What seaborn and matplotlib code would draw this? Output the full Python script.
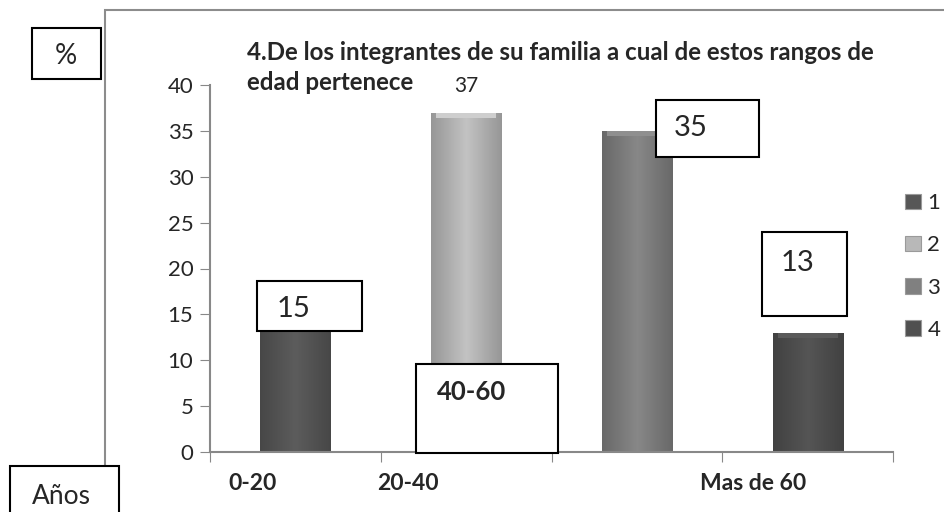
import matplotlib
matplotlib.use("Agg")
import matplotlib.pyplot as plt
from matplotlib.patches import Rectangle, Patch
from matplotlib.colors import LinearSegmentedColormap, to_rgb
import seaborn as sns
import numpy as np
import pandas as pd

rangos = ["0-20", "20-40", "40-60", "Mas de 60"]
porcentajes = [15, 37, 35, 13]
series = ["1", "2", "3", "4"]
colores = ["#575757", "#b8b8b8", "#808080", "#505050"]
titulo = ["4.De los integrantes de su familia a cual de estos rangos de",
          "edad pertenece"]

df = pd.DataFrame({"rango": rangos, "pct": porcentajes, "serie": series})

sns.set_style("white")
plt.rcParams["font.family"] = ["Lato", "DejaVu Sans"]

W, H = 944, 512
fig = plt.figure(figsize=(W / 100, H / 100), dpi=100)


def fx(px):
    return px / W


def fy(py):
    return 1 - py / H


ax = fig.add_axes([fx(210), fy(452), fx(893) - fx(210), fy(85) - fy(452)])

sns.barplot(data=df, x="rango", y="pct", hue="serie", dodge=False,
            palette=colores, width=0.41, ax=ax, legend=False, saturation=1)

# bevel-ish shading on each bar
for patch, col in zip(ax.patches, colores):
    x0, y0 = patch.get_x(), patch.get_y()
    w, h = patch.get_width(), patch.get_height()
    if h == 0:
        continue
    base = np.array(to_rgb(col))
    cmap = LinearSegmentedColormap.from_list(
        "b", [base * 0.82, np.minimum(base * 1.06, 1), base * 0.82])
    grad = np.linspace(0, 1, 64).reshape(1, -1)
    im = ax.imshow(grad, extent=[x0, x0 + w, y0, y0 + h], aspect="auto",
                   cmap=cmap, zorder=patch.get_zorder() + 0.1)
    im.set_clip_path(patch)
    ax.add_patch(Rectangle((x0 + 0.03, y0 + h - 0.6), w - 0.06, 0.6,
                           facecolor=np.minimum(base * 1.12, 1), edgecolor="none",
                           zorder=patch.get_zorder() + 0.2))

ax.set_xlim(-0.5, 3.5)
ax.set_ylim(0, 40)
ax.set_yticks(range(0, 41, 5))
ax.set_xticks([-0.5, 0.5, 1.5, 2.5, 3.5])
ax.set_xticklabels([])
ax.set_xlabel("")
ax.set_ylabel("")
ax.tick_params(axis="y", labelsize=16, length=7, color="#888888", direction="out", left=True, pad=5)
ax.tick_params(axis="x", length=7, color="#888888", direction="out", bottom=True)
for s in ["top", "right"]:
    ax.spines[s].set_visible(False)
for s in ["left", "bottom"]:
    ax.spines[s].set_color("#888888")
    ax.spines[s].set_linewidth(1.5)

# category labels under the axis
lab_x = {0: -0.25, 1: 0.66, 3: 2.68}
for i, lab in enumerate(rangos):
    if i in lab_x:
        ax.text(lab_x[i], -0.085, lab, transform=ax.get_xaxis_transform(),
                ha="center", va="center", fontsize=16.5, fontweight="bold", clip_on=False)

# boxed annotations (data coords)
cajas = {
    0: ((-0.225, 13.2, 0.615, 5.4), (-0.01, 15.6)),
    2: ((2.112, 32.2, 0.603, 6.2), (2.317, 35.3)),
    3: ((2.733, 14.8, 0.498, 9.2), (2.938, 20.6)),
}
for i, ((bx, by, bw, bh), (tx, ty)) in cajas.items():
    ax.add_patch(Rectangle((bx, by), bw, bh, facecolor="white", edgecolor="black",
                           lw=1.5, zorder=5, clip_on=False))
    ax.text(tx, ty, str(porcentajes[i]), ha="center", va="center", fontsize=21,
            zorder=6, clip_on=False)

ax.add_patch(Rectangle((0.706, -0.1), 0.832, 9.7, facecolor="white", edgecolor="black",
                       lw=1.5, zorder=5, clip_on=False))
ax.text(1.031, 6.5, rangos[2], ha="center", va="center", fontsize=18.5,
        fontweight="bold", zorder=6)

ax.text(1, porcentajes[1] + 2.9, str(porcentajes[1]), ha="center", va="center",
        fontsize=15, clip_on=False)

# title, two lines
fig.text(fx(247), fy(52), titulo[0], ha="left", va="center", fontsize=17.4,
         fontweight="bold")
fig.text(fx(247), fy(82), titulo[1], ha="left", va="center", fontsize=17.4,
         fontweight="bold")

# outer chart frame
fig.add_artist(Rectangle((fx(105), -0.2), 1.0, fy(10) + 0.2, transform=fig.transFigure,
                         fill=False, edgecolor="#8c8c8c", lw=1.5))

# axis caption boxes
fig.add_artist(Rectangle((fx(32), fy(79)), fx(101) - fx(32), fy(28) - fy(79),
                         transform=fig.transFigure, facecolor="white",
                         edgecolor="black", lw=1.5))
fig.text(fx(66), fy(56), "%", ha="center", va="center", fontsize=20)
fig.add_artist(Rectangle((fx(10), fy(530)), fx(119) - fx(10), fy(466) - fy(530),
                         transform=fig.transFigure, facecolor="white",
                         edgecolor="black", lw=1.5, zorder=3))
fig.text(fx(61), fy(496), "Años", ha="center", va="center", fontsize=19, zorder=4)

# legend
handles = [Patch(facecolor=c, edgecolor="#9a9a9a", lw=0.8) for c in colores]
fig.legend(handles, series, loc="upper left", bbox_to_anchor=(fx(894), fy(182)),
           frameon=False, fontsize=16, handlelength=0.7, handleheight=0.7,
           handletextpad=0.3, labelspacing=1.0, borderpad=0)

fig.savefig("out.png", dpi=100)
